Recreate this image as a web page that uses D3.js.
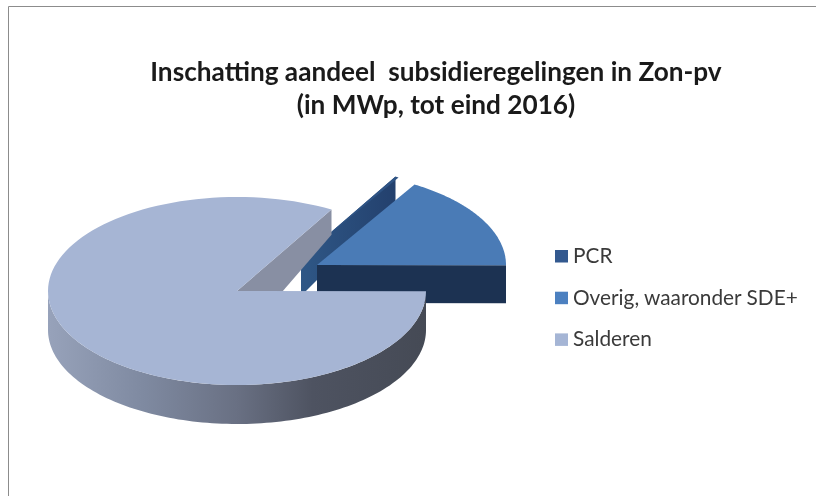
<!DOCTYPE html>
<head>
  <meta charset="utf-8">
  <script src="https://d3js.org/d3.v7.min.js"></script>
  <style>
    body { margin:0; background:#fff; }
    svg { display:block; font-family:Lato, "Open Sans", sans-serif; filter:blur(0.4px); }
  </style>
</head>

<body>
  <script>

  // in percent of the total
  var categories = ["PCR", "Overig, waaronder SDE+", "Salderen"];
  var shares = [0.3, 16.4, 83.3];
  var titleLines = ["Inschatting aandeel  subsidieregelingen in Zon-pv", "(in MWp, tot eind 2016)"];

  var width = 816;
  var height = 496;

  var rx = 189;
  var ry = 94;

  // exploded centre and look of each slice, same order as categories
  var centres = [[301, 258], [317, 265], [237, 291]];
  var topColors = ["#2f5485", "#4a7bb6", "#a6b5d4"];
  var wallColors = ["#2a4a78", "#1c3252", "url(#rimGrad)"];
  var innerColors = ["url(#pcrGrad)", "#1c3252", "#888fa3"];
  // wall height at the middle of the ellipse, it shrinks towards the back
  var wallMid = [38, 38, 39];
  var wallTilt = [15, 15, 16];
  var apexWall = [38, 38, 53];

  var svg = d3.select("body").append("svg")
    .attr("width", width)
    .attr("height", height);

  var defs = svg.append("defs");
  var grad = defs.append("linearGradient")
    .attr("id", "rimGrad")
    .attr("gradientUnits", "userSpaceOnUse")
    .attr("x1", 48).attr("x2", 426).attr("y1", 0).attr("y2", 0);
  [[0, "#97a2ba"], [0.25, "#7f8aa1"], [0.5, "#697083"], [0.7, "#4e5361"], [1, "#454a55"]]
    .forEach(function(s){
      grad.append("stop").attr("offset", s[0]).attr("stop-color", s[1]);
    });

  var pcrGrad = defs.append("linearGradient")
    .attr("id", "pcrGrad")
    .attr("gradientUnits", "userSpaceOnUse")
    .attr("x1", 301).attr("x2", 397).attr("y1", 0).attr("y2", 0);
  pcrGrad.append("stop").attr("offset", 0).attr("stop-color", "#2f5786");
  pcrGrad.append("stop").attr("offset", 1).attr("stop-color", "#23406d");

  // the frame has a top and a left side only
  svg.append("path")
    .attr("d", "M8.5,496V6.5H816")
    .attr("fill", "none")
    .attr("stroke", "#8c8c8c");

  svg.selectAll(".title")
    .data(titleLines)
    .enter()
    .append("text")
    .attr("class", "title")
    .attr("x", 436)
    .attr("y", function(d, i){ return 81 + i * 33; })
    .attr("text-anchor", "middle")
    .attr("font-size", 26.2)
    .attr("font-weight", 700)
    .attr("fill", "#1a1a1a")
    .style("white-space", "pre")
    .text(function(d){ return d; });

  var pie = d3.pie()
    .sort(null)
    .startAngle(Math.PI / 6)
    .endAngle(Math.PI / 6 + 2 * Math.PI);

  var slices = pie(shares);

  function pt(i, a, up) {
    var c = centres[i];
    var v = -Math.cos(a);
    var x = c[0] + rx * Math.sin(a);
    var y = c[1] + ry * v;
    return [x, up ? y : y + wallMid[i] + wallTilt[i] * Math.min(v, 0)];
  }

  function arcPoints(i, a0, a1, up) {
    return d3.range(0, 121).map(function(k){
      return pt(i, a0 + (a1 - a0) * k / 120, up);
    });
  }

  function cutFace(i, a) {
    var c = centres[i];
    return line([c, pt(i, a, true), pt(i, a, false), [c[0], c[1] + apexWall[i]]]) + "Z";
  }

  var line = d3.line();

  var pieG = svg.append("g");

  // back to front, the way the slices overlap in the picture
  slices.forEach(function(d, i){
    var c = centres[i];
    var g = pieG.append("g").attr("class", "slice" + i);

    // the cut faces that can be seen: left one of PCR, front one of Overig, back one of Salderen
    g.append("path")
      .attr("d", cutFace(i, i === 0 ? d.startAngle : d.endAngle))
      .attr("fill", innerColors[i]);

    // outer rim, front half only
    var rimStart = Math.max(d.startAngle, Math.PI / 2);
    var rimEnd = Math.min(d.endAngle, 3 * Math.PI / 2);
    if (rimEnd > rimStart) {
      g.append("path")
        .attr("d", line(arcPoints(i, rimStart, rimEnd, true).concat(arcPoints(i, rimEnd, rimStart, false))) + "Z")
        .attr("fill", wallColors[i]);
    }

    // top face
    g.append("path")
      .attr("d", line([c].concat(arcPoints(i, d.startAngle, d.endAngle, true))) + "Z")
      .attr("fill", topColors[i]);
  });

  var legendColors = ["#33598f", "#4c80c0", "#a5b5d5"];

  var legend = svg.selectAll(".legend")
    .data(categories)
    .enter()
    .append("g")
    .attr("class", "legend")
    .attr("transform", function(d, i){ return "translate(555," + (250 + i * 41.7) + ")"; });

  legend.append("rect")
    .attr("width", 13)
    .attr("height", 12.5)
    .attr("fill", function(d, i){ return legendColors[i]; });

  legend.append("text")
    .attr("x", 18)
    .attr("y", 13)
    .attr("font-size", 20.8)
    .attr("fill", "#3a3a3a")
    .text(function(d){ return d; });

  </script>
</body>
